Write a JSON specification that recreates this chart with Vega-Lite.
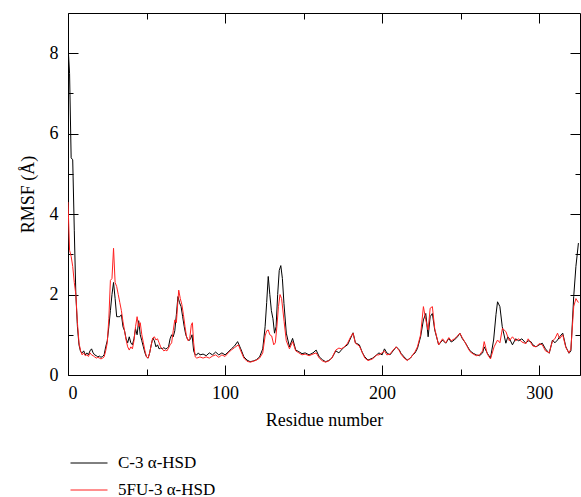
{
  "$schema": "https://vega.github.io/schema/vega-lite/v6.json",
  "width": 512,
  "height": 362,
  "autosize": "none",
  "padding": {"left": 68, "top": 13, "right": 1, "bottom": 122},
  "background": "white",
  "config": {
    "view": {"stroke": "#000", "strokeWidth": 1},
    "font": "Liberation Serif",
    "axis": {"domain": false, "grid": false, "tickColor": "#000", "tickWidth": 1, "labelFont": "Liberation Serif", "labelFontSize": 18, "labelColor": "#000", "titleFont": "Liberation Serif", "titleFontSize": 18, "titleFontWeight": "normal", "titleColor": "#000"},
    "legend": {"labelFont": "Liberation Serif", "labelFontSize": 17, "labelColor": "#000"}
  },
  "datasets": {
    "c3": [
      {"residue":0,"rmsf":8.2},{"residue":1,"rmsf":7.5},{"residue":2,"rmsf":5.4},{"residue":3,"rmsf":5.35},{"residue":4,"rmsf":3.6},{"residue":5,"rmsf":2.0},{"residue":6,"rmsf":1.2},{"residue":7,"rmsf":0.75},{"residue":8,"rmsf":0.58},{"residue":9,"rmsf":0.55},{"residue":10,"rmsf":0.6},{"residue":11,"rmsf":0.5},{"residue":12,"rmsf":0.55},{"residue":13,"rmsf":0.5},{"residue":14,"rmsf":0.6},{"residue":15,"rmsf":0.65},{"residue":16,"rmsf":0.55},{"residue":17,"rmsf":0.5},{"residue":18,"rmsf":0.48},{"residue":19,"rmsf":0.45},{"residue":20,"rmsf":0.47},{"residue":21,"rmsf":0.44},{"residue":22,"rmsf":0.46},{"residue":23,"rmsf":0.5},{"residue":24,"rmsf":0.7},{"residue":25,"rmsf":0.85},{"residue":26,"rmsf":1.2},{"residue":27,"rmsf":1.6},{"residue":28,"rmsf":2.0},{"residue":29,"rmsf":2.3},{"residue":30,"rmsf":1.9},{"residue":31,"rmsf":1.45},{"residue":32,"rmsf":1.45},{"residue":33,"rmsf":1.45},{"residue":34,"rmsf":1.5},{"residue":35,"rmsf":1.2},{"residue":36,"rmsf":1.1},{"residue":37,"rmsf":0.9},{"residue":38,"rmsf":0.8},{"residue":39,"rmsf":0.95},{"residue":40,"rmsf":0.8},{"residue":41,"rmsf":0.75},{"residue":42,"rmsf":0.9},{"residue":43,"rmsf":1.15},{"residue":44,"rmsf":1.0},{"residue":45,"rmsf":1.35},{"residue":46,"rmsf":1.0},{"residue":47,"rmsf":0.85},{"residue":48,"rmsf":0.7},{"residue":49,"rmsf":0.55},{"residue":50,"rmsf":0.45},{"residue":51,"rmsf":0.42},{"residue":52,"rmsf":0.55},{"residue":53,"rmsf":0.75},{"residue":54,"rmsf":0.92},{"residue":55,"rmsf":0.85},{"residue":56,"rmsf":0.7},{"residue":57,"rmsf":0.75},{"residue":58,"rmsf":0.65},{"residue":59,"rmsf":0.67},{"residue":60,"rmsf":0.65},{"residue":61,"rmsf":0.68},{"residue":62,"rmsf":0.65},{"residue":63,"rmsf":0.66},{"residue":64,"rmsf":0.7},{"residue":65,"rmsf":0.9},{"residue":66,"rmsf":1.0},{"residue":67,"rmsf":0.95},{"residue":68,"rmsf":1.1},{"residue":69,"rmsf":1.5},{"residue":70,"rmsf":1.95},{"residue":71,"rmsf":1.8},{"residue":72,"rmsf":1.7},{"residue":73,"rmsf":1.45},{"residue":74,"rmsf":1.2},{"residue":75,"rmsf":1.0},{"residue":76,"rmsf":0.9},{"residue":77,"rmsf":0.85},{"residue":78,"rmsf":0.9},{"residue":79,"rmsf":1.0},{"residue":80,"rmsf":0.6},{"residue":81,"rmsf":0.5},{"residue":82,"rmsf":0.5},{"residue":83,"rmsf":0.55},{"residue":84,"rmsf":0.5},{"residue":86,"rmsf":0.52},{"residue":88,"rmsf":0.48},{"residue":90,"rmsf":0.55},{"residue":92,"rmsf":0.5},{"residue":94,"rmsf":0.57},{"residue":96,"rmsf":0.5},{"residue":98,"rmsf":0.55},{"residue":100,"rmsf":0.5},{"residue":102,"rmsf":0.57},{"residue":104,"rmsf":0.65},{"residue":106,"rmsf":0.72},{"residue":108,"rmsf":0.83},{"residue":110,"rmsf":0.65},{"residue":112,"rmsf":0.45},{"residue":114,"rmsf":0.37},{"residue":116,"rmsf":0.33},{"residue":118,"rmsf":0.35},{"residue":120,"rmsf":0.38},{"residue":122,"rmsf":0.45},{"residue":124,"rmsf":0.65},{"residue":125.5,"rmsf":1.2},{"residue":126.5,"rmsf":1.8},{"residue":127.5,"rmsf":2.45},{"residue":128.5,"rmsf":2.0},{"residue":129.5,"rmsf":1.6},{"residue":130.5,"rmsf":1.4},{"residue":131.5,"rmsf":1.04},{"residue":132.5,"rmsf":1.2},{"residue":133.5,"rmsf":2.0},{"residue":134.5,"rmsf":2.6},{"residue":135.5,"rmsf":2.72},{"residue":136.5,"rmsf":2.4},{"residue":137.5,"rmsf":1.78},{"residue":139,"rmsf":1.04},{"residue":141,"rmsf":0.7},{"residue":143,"rmsf":0.91},{"residue":145,"rmsf":0.62},{"residue":147,"rmsf":0.58},{"residue":149,"rmsf":0.53},{"residue":151,"rmsf":0.55},{"residue":153.5,"rmsf":0.5},{"residue":156,"rmsf":0.55},{"residue":158,"rmsf":0.62},{"residue":160,"rmsf":0.45},{"residue":162,"rmsf":0.38},{"residue":164,"rmsf":0.33},{"residue":166,"rmsf":0.36},{"residue":168,"rmsf":0.42},{"residue":170.5,"rmsf":0.6},{"residue":172.5,"rmsf":0.55},{"residue":174,"rmsf":0.62},{"residue":176,"rmsf":0.7},{"residue":178,"rmsf":0.75},{"residue":180,"rmsf":0.92},{"residue":181.5,"rmsf":1.05},{"residue":183,"rmsf":0.8},{"residue":185.5,"rmsf":0.75},{"residue":187.5,"rmsf":0.55},{"residue":189,"rmsf":0.45},{"residue":191,"rmsf":0.37},{"residue":194,"rmsf":0.42},{"residue":196.5,"rmsf":0.5},{"residue":198,"rmsf":0.55},{"residue":200,"rmsf":0.5},{"residue":201.5,"rmsf":0.65},{"residue":203,"rmsf":0.55},{"residue":205,"rmsf":0.5},{"residue":207,"rmsf":0.6},{"residue":209,"rmsf":0.7},{"residue":211,"rmsf":0.62},{"residue":212,"rmsf":0.54},{"residue":214,"rmsf":0.45},{"residue":216,"rmsf":0.37},{"residue":218,"rmsf":0.42},{"residue":219.5,"rmsf":0.5},{"residue":221,"rmsf":0.55},{"residue":222.5,"rmsf":0.66},{"residue":224.5,"rmsf":0.95},{"residue":226.3,"rmsf":1.37},{"residue":227.8,"rmsf":1.53},{"residue":229.3,"rmsf":0.95},{"residue":230.6,"rmsf":1.45},{"residue":232,"rmsf":1.53},{"residue":233.5,"rmsf":1.12},{"residue":236,"rmsf":0.75},{"residue":238.5,"rmsf":0.87},{"residue":240.5,"rmsf":0.79},{"residue":242.5,"rmsf":0.91},{"residue":244,"rmsf":0.82},{"residue":246,"rmsf":0.87},{"residue":248,"rmsf":0.95},{"residue":249.5,"rmsf":1.04},{"residue":251,"rmsf":0.91},{"residue":253,"rmsf":0.8},{"residue":254.5,"rmsf":0.7},{"residue":256,"rmsf":0.6},{"residue":258,"rmsf":0.54},{"residue":260,"rmsf":0.5},{"residue":262,"rmsf":0.48},{"residue":264,"rmsf":0.55},{"residue":265,"rmsf":0.7},{"residue":267,"rmsf":0.54},{"residue":269,"rmsf":0.42},{"residue":271,"rmsf":0.87},{"residue":272.5,"rmsf":1.5},{"residue":273.5,"rmsf":1.82},{"residue":275,"rmsf":1.7},{"residue":276.5,"rmsf":1.2},{"residue":278.8,"rmsf":0.79},{"residue":280,"rmsf":0.95},{"residue":281,"rmsf":0.91},{"residue":283,"rmsf":0.75},{"residue":285,"rmsf":0.9},{"residue":287,"rmsf":0.85},{"residue":289,"rmsf":0.9},{"residue":291.5,"rmsf":0.79},{"residue":293,"rmsf":0.85},{"residue":294.7,"rmsf":0.83},{"residue":296,"rmsf":0.75},{"residue":298,"rmsf":0.7},{"residue":300,"rmsf":0.75},{"residue":302,"rmsf":0.79},{"residue":304,"rmsf":0.65},{"residue":306.4,"rmsf":0.54},{"residue":308.5,"rmsf":0.87},{"residue":310,"rmsf":0.8},{"residue":311.7,"rmsf":0.87},{"residue":313,"rmsf":0.95},{"residue":315,"rmsf":1.04},{"residue":317,"rmsf":0.7},{"residue":319,"rmsf":0.54},{"residue":320.2,"rmsf":0.6},{"residue":322,"rmsf":1.95},{"residue":323.4,"rmsf":2.7},{"residue":325,"rmsf":3.28}
    ],
    "fu": [
      {"residue":0,"rmsf":4.3},{"residue":1,"rmsf":3.1},{"residue":2,"rmsf":2.95},{"residue":3,"rmsf":2.7},{"residue":4,"rmsf":2.3},{"residue":5,"rmsf":2.0},{"residue":6,"rmsf":1.3},{"residue":7,"rmsf":0.8},{"residue":8,"rmsf":0.6},{"residue":9,"rmsf":0.5},{"residue":10,"rmsf":0.55},{"residue":11,"rmsf":0.48},{"residue":12,"rmsf":0.5},{"residue":13,"rmsf":0.46},{"residue":14,"rmsf":0.55},{"residue":15,"rmsf":0.5},{"residue":16,"rmsf":0.48},{"residue":17,"rmsf":0.45},{"residue":18,"rmsf":0.42},{"residue":19,"rmsf":0.44},{"residue":20,"rmsf":0.42},{"residue":21,"rmsf":0.4},{"residue":22,"rmsf":0.42},{"residue":23,"rmsf":0.45},{"residue":24,"rmsf":0.6},{"residue":25,"rmsf":0.8},{"residue":26,"rmsf":1.4},{"residue":27,"rmsf":2.35},{"residue":28,"rmsf":2.4},{"residue":29,"rmsf":3.15},{"residue":30,"rmsf":2.3},{"residue":31,"rmsf":2.2},{"residue":32,"rmsf":2.0},{"residue":33,"rmsf":1.8},{"residue":34,"rmsf":1.6},{"residue":35,"rmsf":1.33},{"residue":36,"rmsf":1.1},{"residue":37,"rmsf":0.87},{"residue":38,"rmsf":0.7},{"residue":39,"rmsf":0.62},{"residue":40,"rmsf":0.7},{"residue":41,"rmsf":0.65},{"residue":42,"rmsf":0.85},{"residue":43,"rmsf":1.2},{"residue":44,"rmsf":1.45},{"residue":45,"rmsf":1.2},{"residue":46,"rmsf":1.3},{"residue":47,"rmsf":1.0},{"residue":48,"rmsf":0.8},{"residue":49,"rmsf":0.6},{"residue":50,"rmsf":0.45},{"residue":51,"rmsf":0.42},{"residue":52,"rmsf":0.55},{"residue":53,"rmsf":0.75},{"residue":54,"rmsf":0.92},{"residue":55,"rmsf":0.95},{"residue":56,"rmsf":0.87},{"residue":57,"rmsf":0.9},{"residue":58,"rmsf":0.8},{"residue":59,"rmsf":0.7},{"residue":60,"rmsf":0.65},{"residue":61,"rmsf":0.6},{"residue":62,"rmsf":0.62},{"residue":63,"rmsf":0.6},{"residue":64,"rmsf":0.67},{"residue":65,"rmsf":0.75},{"residue":66,"rmsf":0.8},{"residue":67,"rmsf":1.1},{"residue":68,"rmsf":1.37},{"residue":69,"rmsf":1.3},{"residue":70,"rmsf":1.85},{"residue":70.5,"rmsf":2.11},{"residue":71.5,"rmsf":1.9},{"residue":72.5,"rmsf":1.75},{"residue":73.5,"rmsf":1.5},{"residue":74.5,"rmsf":1.2},{"residue":75.5,"rmsf":0.95},{"residue":76.5,"rmsf":0.85},{"residue":77.5,"rmsf":0.9},{"residue":78.5,"rmsf":1.24},{"residue":79.2,"rmsf":1.3},{"residue":80,"rmsf":0.8},{"residue":81,"rmsf":0.45},{"residue":82,"rmsf":0.42},{"residue":84,"rmsf":0.45},{"residue":86,"rmsf":0.42},{"residue":88,"rmsf":0.45},{"residue":90,"rmsf":0.42},{"residue":92,"rmsf":0.47},{"residue":94,"rmsf":0.5},{"residue":96,"rmsf":0.44},{"residue":98,"rmsf":0.5},{"residue":100,"rmsf":0.46},{"residue":102,"rmsf":0.55},{"residue":104,"rmsf":0.62},{"residue":106,"rmsf":0.68},{"residue":108.5,"rmsf":0.75},{"residue":110,"rmsf":0.6},{"residue":112,"rmsf":0.42},{"residue":114,"rmsf":0.34},{"residue":116,"rmsf":0.32},{"residue":118,"rmsf":0.34},{"residue":120,"rmsf":0.37},{"residue":122,"rmsf":0.42},{"residue":124,"rmsf":0.55},{"residue":125.5,"rmsf":0.97},{"residue":126.5,"rmsf":1.1},{"residue":127.5,"rmsf":1.12},{"residue":128.5,"rmsf":1.0},{"residue":129.7,"rmsf":0.97},{"residue":131,"rmsf":0.75},{"residue":132,"rmsf":0.8},{"residue":133,"rmsf":1.2},{"residue":134,"rmsf":1.7},{"residue":135,"rmsf":2.0},{"residue":136,"rmsf":1.9},{"residue":137.6,"rmsf":1.33},{"residue":139,"rmsf":0.85},{"residue":141,"rmsf":0.65},{"residue":143,"rmsf":0.83},{"residue":145,"rmsf":0.6},{"residue":147,"rmsf":0.55},{"residue":149,"rmsf":0.5},{"residue":151,"rmsf":0.52},{"residue":153.5,"rmsf":0.48},{"residue":156,"rmsf":0.52},{"residue":158,"rmsf":0.55},{"residue":160,"rmsf":0.42},{"residue":162,"rmsf":0.35},{"residue":164,"rmsf":0.32},{"residue":166,"rmsf":0.35},{"residue":168,"rmsf":0.42},{"residue":170.5,"rmsf":0.62},{"residue":172.5,"rmsf":0.67},{"residue":174,"rmsf":0.65},{"residue":176,"rmsf":0.7},{"residue":178,"rmsf":0.79},{"residue":180,"rmsf":0.95},{"residue":181.5,"rmsf":1.04},{"residue":183,"rmsf":0.79},{"residue":185.5,"rmsf":0.72},{"residue":187.5,"rmsf":0.55},{"residue":189,"rmsf":0.42},{"residue":191,"rmsf":0.36},{"residue":194,"rmsf":0.4},{"residue":196.5,"rmsf":0.5},{"residue":198,"rmsf":0.5},{"residue":200,"rmsf":0.55},{"residue":201.5,"rmsf":0.6},{"residue":203,"rmsf":0.5},{"residue":205,"rmsf":0.52},{"residue":207,"rmsf":0.62},{"residue":209,"rmsf":0.7},{"residue":211,"rmsf":0.6},{"residue":212,"rmsf":0.52},{"residue":214,"rmsf":0.42},{"residue":216,"rmsf":0.36},{"residue":218,"rmsf":0.42},{"residue":219.5,"rmsf":0.5},{"residue":221,"rmsf":0.58},{"residue":222.5,"rmsf":0.7},{"residue":224.5,"rmsf":1.0},{"residue":226.3,"rmsf":1.7},{"residue":227.8,"rmsf":1.37},{"residue":229.3,"rmsf":1.12},{"residue":230.6,"rmsf":1.66},{"residue":232,"rmsf":1.7},{"residue":233.5,"rmsf":1.15},{"residue":236,"rmsf":0.75},{"residue":238.5,"rmsf":0.9},{"residue":240.5,"rmsf":0.8},{"residue":242.5,"rmsf":0.93},{"residue":244,"rmsf":0.85},{"residue":246,"rmsf":0.9},{"residue":248,"rmsf":0.97},{"residue":249.5,"rmsf":1.04},{"residue":251,"rmsf":0.93},{"residue":253,"rmsf":0.8},{"residue":254.5,"rmsf":0.68},{"residue":256,"rmsf":0.58},{"residue":258,"rmsf":0.52},{"residue":260,"rmsf":0.48},{"residue":262,"rmsf":0.5},{"residue":264,"rmsf":0.6},{"residue":265,"rmsf":0.83},{"residue":267,"rmsf":0.52},{"residue":269,"rmsf":0.4},{"residue":271.3,"rmsf":0.7},{"residue":273.5,"rmsf":0.87},{"residue":275,"rmsf":0.8},{"residue":276.6,"rmsf":1.16},{"residue":278.8,"rmsf":1.08},{"residue":280,"rmsf":0.95},{"residue":281,"rmsf":0.85},{"residue":283,"rmsf":0.95},{"residue":285,"rmsf":0.85},{"residue":287,"rmsf":0.9},{"residue":289,"rmsf":0.82},{"residue":291.5,"rmsf":0.78},{"residue":293,"rmsf":0.9},{"residue":294.7,"rmsf":0.8},{"residue":296,"rmsf":0.72},{"residue":298,"rmsf":0.7},{"residue":300,"rmsf":0.78},{"residue":302,"rmsf":0.75},{"residue":304,"rmsf":0.6},{"residue":306.4,"rmsf":0.55},{"residue":308.5,"rmsf":0.85},{"residue":310,"rmsf":0.9},{"residue":311.7,"rmsf":1.04},{"residue":313,"rmsf":0.9},{"residue":315,"rmsf":1.0},{"residue":317,"rmsf":0.68},{"residue":319,"rmsf":0.55},{"residue":320.2,"rmsf":0.65},{"residue":322,"rmsf":1.7},{"residue":323.4,"rmsf":1.9},{"residue":325,"rmsf":1.8}
    ]
  },
  "resolve": {"axis": {"x": "independent", "y": "independent"}},
  "layer": [
    {
      "data": {"name": "c3"},
      "mark": {"type": "line", "strokeWidth": 1, "clip": true},
      "encoding": {
        "x": {"field": "residue", "type": "quantitative", "scale": {"domain": [0, 326], "nice": false, "zero": false},
              "axis": {"orient": "bottom", "values": [0, 100, 200, 300], "ticks": false, "labelPadding": 9, "title": "Residue number", "titlePadding": 9}},
        "y": {"field": "rmsf", "type": "quantitative", "scale": {"domain": [0, 9], "nice": false},
              "axis": {"orient": "left", "values": [0, 2, 4, 6, 8], "ticks": false, "labelPadding": 10, "title": "RMSF (Å)", "titlePadding": 12}},
        "color": {"datum": "C-3 α-HSD", "type": "nominal",
                  "scale": {"domain": ["C-3 α-HSD", "5FU-3 α-HSD"], "range": ["#000000", "#ff2020"]},
                  "legend": {"title": null, "orient": "none", "legendX": 2, "legendY": 431, "symbolType": "stroke", "symbolSize": 1369, "symbolStrokeWidth": 1, "labelOffset": 10, "rowPadding": -11}}
      }
    },
    {
      "data": {"name": "fu"},
      "mark": {"type": "line", "strokeWidth": 1, "clip": true},
      "encoding": {
        "x": {"field": "residue", "type": "quantitative",
              "axis": {"orient": "top", "values": [0, 100, 200, 300], "tickSize": -10, "labels": false, "title": null}},
        "y": {"field": "rmsf", "type": "quantitative",
              "axis": {"orient": "right", "values": [0, 2, 4, 6, 8], "tickSize": -10, "labels": false, "title": null}},
        "color": {"datum": "5FU-3 α-HSD", "type": "nominal"}
      }
    },
    {
      "data": {"name": "c3"},
      "mark": {"type": "line", "strokeOpacity": 0},
      "encoding": {
        "x": {"field": "residue", "type": "quantitative",
              "axis": {"orient": "bottom", "values": [0, 100, 200, 300], "tickSize": -10, "labels": false, "title": null}},
        "y": {"field": "rmsf", "type": "quantitative",
              "axis": {"orient": "left", "values": [0, 2, 4, 6, 8], "tickSize": -10, "labels": false, "title": null}}
      }
    },
    {
      "data": {"name": "c3"},
      "mark": {"type": "line", "strokeOpacity": 0},
      "encoding": {
        "x": {"field": "residue", "type": "quantitative",
              "axis": {"orient": "bottom", "values": [50, 150, 250], "tickSize": -6, "labels": false, "title": null}},
        "y": {"field": "rmsf", "type": "quantitative",
              "axis": {"orient": "left", "values": [1, 3, 5, 7], "tickSize": -5, "labels": false, "title": null}}
      }
    },
    {
      "data": {"name": "c3"},
      "mark": {"type": "line", "strokeOpacity": 0},
      "encoding": {
        "x": {"field": "residue", "type": "quantitative",
              "axis": {"orient": "top", "values": [50, 150, 250], "tickSize": -6, "labels": false, "title": null}},
        "y": {"field": "rmsf", "type": "quantitative",
              "axis": {"orient": "right", "values": [1, 3, 5, 7], "tickSize": -5, "labels": false, "title": null}}
      }
    }
  ]
}
